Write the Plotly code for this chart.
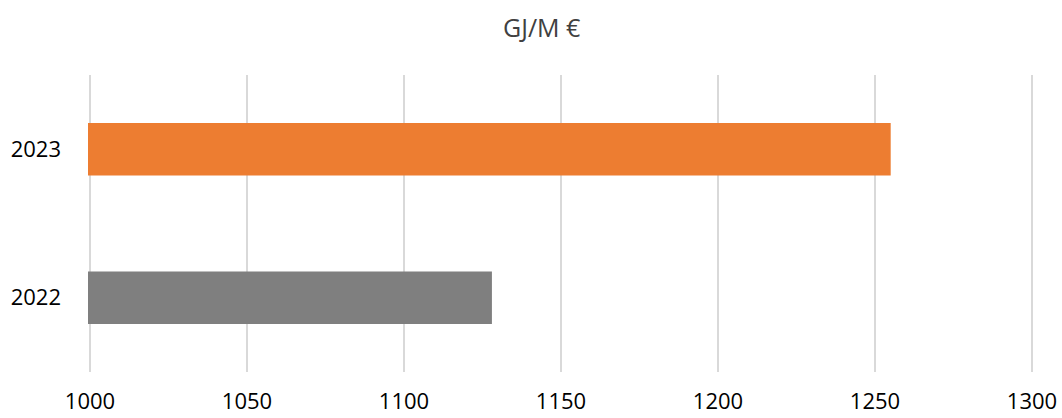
import plotly.graph_objects as go

# Energy intensity per year (GJ per million euro)
years = ["2022", "2023"]
values = [1128, 1255]
bar_colors = ["#7F7F7F", "#ED7D31"]
x_ticks = [1000, 1050, 1100, 1150, 1200, 1250, 1300]

# a little padding on the value axis so the 1000 and 1300 grid lines are kept
pad = 2 * 300 / 942

fig = go.Figure(
    go.Bar(
        y=years,
        x=values,
        orientation="h",
        marker=dict(color=bar_colors, line=dict(width=0)),
        width=0.355,
        hoverinfo="x+y",
    )
)

fig.update_layout(
    width=1062,
    height=418,
    margin=dict(l=88, r=28, t=75, b=46),
    paper_bgcolor="white",
    plot_bgcolor="white",
    showlegend=False,
    font=dict(family="Open Sans", size=22, color="#000000"),
    annotations=[
        dict(
            text="GJ/M €",
            xref="paper",
            yref="paper",
            x=(541 - 88) / 946,
            y=1,
            yshift=48,
            xanchor="center",
            yanchor="middle",
            showarrow=False,
            font=dict(family="Open Sans", size=25, color="#404040"),
        )
    ],
)

fig.update_xaxes(
    range=[1000 - pad, 1300 + pad],
    tickvals=x_ticks,
    ticktext=[str(t) for t in x_ticks],
    showgrid=True,
    gridcolor="#D9D9D9",
    gridwidth=2,
    zeroline=False,
    showline=False,
    ticks="",
    ticklabelstandoff=14,
    automargin=False,
    fixedrange=True,
)

fig.update_yaxes(
    categoryorder="array",
    categoryarray=years,
    range=[-0.5, 1.5],
    showgrid=False,
    zeroline=False,
    showline=False,
    ticks="",
    ticklabelstandoff=26,
    automargin=False,
    fixedrange=True,
)

fig.write_html("out.html")
